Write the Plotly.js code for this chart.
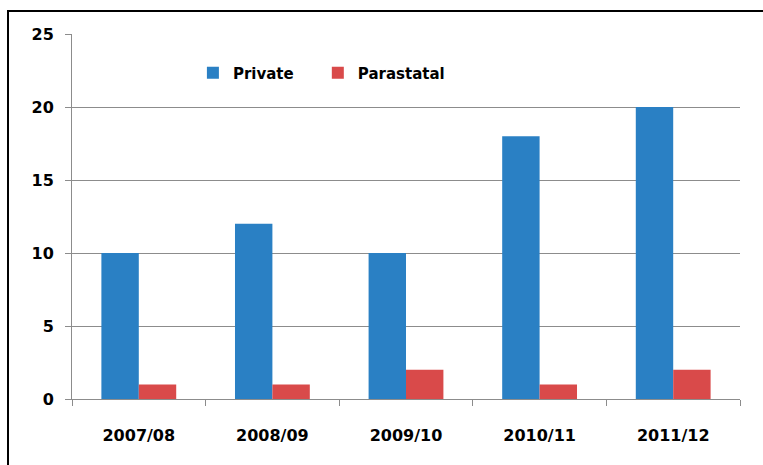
<!DOCTYPE html>
<html>
<head>
<meta charset="utf-8">
<script src="https://cdn.plot.ly/plotly-3.0.1.min.js"></script>
<style>
  html, body { margin: 0; padding: 0; background: #ffffff; }
  #chart { width: 763px; height: 465px; }
</style>
</head>
<body>
<div id="chart"></div>
<script>
const categories = ["2007/08", "2008/09", "2009/10", "2010/11", "2011/12"];
const privateValues = [10, 12, 10, 18, 20];
const parastatalValues = [1, 1, 2, 1, 2];
const yTicks = [0, 5, 10, 15, 20, 25];

const font = { family: "DejaVu Sans, Verdana, sans-serif", size: 16, color: "#000000" };
const legendFont = { family: font.family, size: 15, color: "#000", weight: "bold" };

const traces = [
  { type: "bar", name: "Private", x: categories, y: privateValues,
    marker: { color: "#2A80C4" }, legend: "legend" },
  { type: "bar", name: "Parastatal", x: categories, y: parastatalValues,
    marker: { color: "#D94A4A" }, legend: "legend2" }
];

const layout = {
  width: 763, height: 465,
  margin: { l: 72, r: 23, t: 34, b: 66 },
  paper_bgcolor: "#ffffff", plot_bgcolor: "#ffffff",
  font: font,
  barmode: "group", bargap: 0.44, bargroupgap: 0,
  showlegend: true,
  legend: {
    orientation: "h", x: 0.181, xanchor: "left", y: 0.893, yanchor: "middle",
    font: legendFont, bgcolor: "rgba(0,0,0,0)", itemclick: false
  },
  legend2: {
    orientation: "h", x: 0.368, xanchor: "left", y: 0.893, yanchor: "middle",
    font: legendFont, bgcolor: "rgba(0,0,0,0)", itemclick: false
  },
  xaxis: {
    type: "category", tickson: "boundaries", ticks: "outside", ticklen: 6,
    tickcolor: "#8c8c8c", showline: true, linecolor: "#8c8c8c", linewidth: 1,
    showgrid: false, zeroline: false,
    tickfont: { family: font.family, size: 16, color: "#000", weight: "bold" },
    ticklabelstandoff: 22, fixedrange: true
  },
  yaxis: {
    range: [0, 25], tickvals: yTicks, ticktext: yTicks.map(String),
    ticks: "outside", ticklen: 6, tickcolor: "#8c8c8c",
    showline: true, linecolor: "#8c8c8c", linewidth: 1,
    showgrid: true, gridcolor: "#8c8c8c", gridwidth: 1, zeroline: false,
    tickfont: { family: font.family, size: 16, color: "#000", weight: "bold" },
    ticklabelstandoff: 8, fixedrange: true
  },
  shapes: [
    { type: "line", xref: "paper", yref: "paper", x0: -0.0973, x1: 1.04, y0: 1.063, y1: 1.063,
      line: { color: "#000", width: 2 } },
    { type: "line", xref: "paper", yref: "paper", x0: -0.0958, x1: -0.0958, y0: 1.066, y1: -0.19,
      line: { color: "#000", width: 2 } }
  ]
};

Plotly.newPlot("chart", traces, layout, { displayModeBar: false, staticPlot: true });
</script>
</body>
</html>
